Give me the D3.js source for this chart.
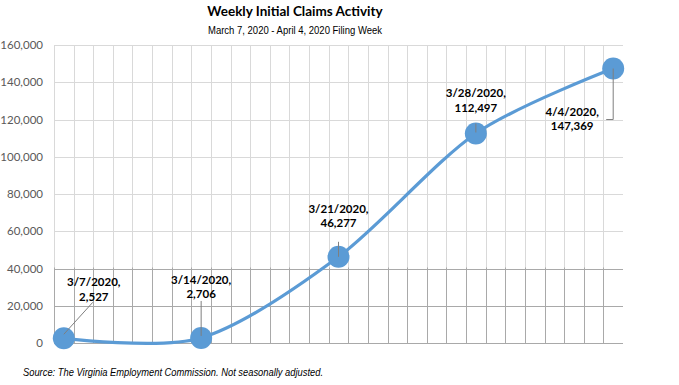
<!DOCTYPE html>
<html>
<head>
<meta charset="utf-8">
<script src="https://cdn.jsdelivr.net/npm/d3@7"></script>
<style>
  body { margin: 0; background: #fff; }
  svg { display: block; }
  .narrow { font-family: "Liberation Sans Narrow", "Arial Narrow", "Liberation Sans", sans-serif; }
</style>
</head>
<body>
<script>
// chart data
var weekDates = ["3/7/2020", "3/14/2020", "3/21/2020", "3/28/2020", "4/4/2020"];
var weekDay = [0, 7, 14, 21, 28];          // day index from March 7
var claims = [2527, 2706, 46277, 112497, 147369];
var yTicks = [0, 20000, 40000, 60000, 80000, 100000, 120000, 140000, 160000];
var nDays = 29;

var width = 679, height = 385;
var plotL = 54, plotR = 623, plotT = 45, plotB = 343;

var svg = d3.select("body").append("svg")
    .attr("width", width)
    .attr("height", height);

// band scale of days, points at band centres
var x = d3.scaleBand()
    .domain(d3.range(nDays))
    .range([plotL, plotR]);

var y = d3.scaleLinear()
    .domain([0, 160000])
    .range([plotB, plotT]);

var fmt = d3.format(",");

// gridlines - lighter above 40,000, darker below
function grid(g, color) {
  g.selectAll("line.v")
    .data(d3.range(nDays))
    .enter().append("line")
    .attr("x1", d => Math.round(x(d)) + 0.5)
    .attr("x2", d => Math.round(x(d)) + 0.5)
    .attr("y1", plotT).attr("y2", plotB)
    .attr("stroke", color);
  g.selectAll("line.h")
    .data(yTicks)
    .enter().append("line")
    .attr("x1", plotL).attr("x2", plotR)
    .attr("y1", d => Math.round(y(d)) + 0.5)
    .attr("y2", d => Math.round(y(d)) + 0.5)
    .attr("stroke", color);
}
svg.append("clipPath").attr("id", "low")
  .append("rect")
  .attr("x", 0).attr("y", y(40000) - 1)
  .attr("width", width).attr("height", plotB - y(40000) + 2);

grid(svg.append("g"), "#d9d9d9");
grid(svg.append("g").attr("clip-path", "url(#low)"), "#a9a9a9");

// y axis labels
svg.append("g").selectAll("text")
  .data(yTicks)
  .enter().append("text")
  .attr("x", 43)
  .attr("y", d => y(d))
  .attr("dy", "0.35em")
  .attr("text-anchor", "end")
  .style("font-family", "Lato, 'Open Sans', sans-serif")
  .style("font-size", "11.5px")
  .style("fill", "#595959")
  .text(d => fmt(d));

var pts = weekDay.map((d, i) => ({ day: d, v: claims[i], date: weekDates[i] }));
var cx = d => x(d.day) + x.bandwidth() / 2;

// smoothed line
var line = d3.line()
    .x(cx)
    .y(d => y(d.v))
    .curve(d3.curveCardinal.tension(0.12));

svg.append("path")
  .datum(pts)
  .attr("d", line)
  .attr("fill", "none")
  .attr("stroke", "#5b9bd5")
  .attr("stroke-width", 3.2);

svg.selectAll("circle")
  .data(pts)
  .enter().append("circle")
  .attr("cx", cx)
  .attr("cy", d => y(d.v))
  .attr("r", 11)
  .attr("fill", "#5b9bd5");

// data labels with leader lines (label offsets from the point)
var labelOff = [[30, -56], [0, -58], [0, -48], [0, -40], [-41, 43]];
var leaders = [
  function(p) { return [[p[0], p[1] - 4], [p[0] + 29, p[1] - 36]]; },
  function(p) { return [[p[0], p[1] - 2], [p[0], p[1] - 37]]; },
  function(p) { return [[p[0], p[1]], [p[0], p[1] - 15]]; },
  function(p) { return [[p[0], p[1] - 1], [p[0], p[1] - 10]]; },
  function(p) { return [[p[0], p[1]], [p[0], p[1] + 51], [p[0] - 7, p[1] + 51]]; }
];

var labels = svg.append("g").selectAll("g")
  .data(pts)
  .enter().append("g");

labels.append("path")
  .attr("d", (d, i) => d3.line()(leaders[i]([cx(d), y(d.v)])))
  .attr("fill", "none")
  .attr("stroke", "#7f7f7f")
  .attr("stroke-width", 1);

labels.append("text")
  .attr("x", (d, i) => cx(d) + labelOff[i][0])
  .attr("y", (d, i) => y(d.v) + labelOff[i][1])
  .attr("text-anchor", "middle")
  .style("font-family", "Lato, 'Open Sans', sans-serif")
  .style("font-weight", "bold")
  .style("font-size", "11.5px")
  .style("fill", "#000")
  .each(function(d) {
    var t = d3.select(this);
    t.append("tspan").attr("x", t.attr("x")).attr("dy", "0.35em").text(d.date + ",");
    t.append("tspan").attr("x", t.attr("x")).attr("dy", "1.25em").text(fmt(d.v));
  });

// titles
svg.append("text")
  .attr("x", 295).attr("y", 16)
  .attr("text-anchor", "middle")
  .style("font-family", "Lato, 'Open Sans', sans-serif")
  .style("font-weight", "bold")
  .style("font-size", "13.5px")
  .text("Weekly Initial Claims Activity");

svg.append("text")
  .attr("class", "narrow")
  .attr("x", 208).attr("y", 34)
  .attr("textLength", 174)
  .attr("lengthAdjust", "spacingAndGlyphs")
  .style("font-size", "11.5px")
  .text("March 7, 2020 - April 4, 2020 Filing Week");

svg.append("text")
  .attr("class", "narrow")
  .attr("x", 23).attr("y", 376)
  .attr("textLength", 300)
  .attr("lengthAdjust", "spacingAndGlyphs")
  .style("font-size", "11px")
  .style("font-style", "italic")
  .text("Source: The Virginia Employment Commission. Not seasonally adjusted.");
</script>
</body>
</html>
